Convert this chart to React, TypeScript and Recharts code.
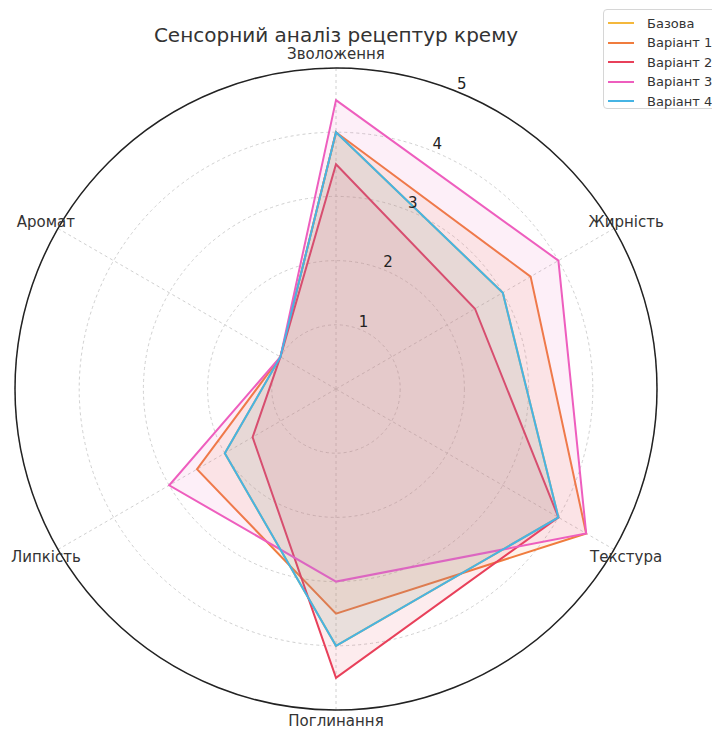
import React from "react";
import {
  RadarChart,
  Radar,
  PolarGrid,
  PolarAngleAxis,
  PolarRadiusAxis,
} from "recharts";

// axes go clockwise from the top
const CATEGORIES = ["Зволоження", "Жирність", "Текстура", "Поглинання", "Липкість", "Аромат"];
const BASE = [4.0, 3.0, 4.0, 4.0, 2.0, 1.0];
const VARIANT_1 = [4.0, 3.5, 4.5, 3.5, 2.5, 1.0];
const VARIANT_2 = [3.5, 2.5, 4.0, 4.5, 1.5, 1.0];
const VARIANT_3 = [4.5, 4.0, 4.5, 3.0, 3.0, 1.0];
const VARIANT_4 = [4.0, 3.0, 4.0, 4.0, 2.0, 1.0];
const RADIUS_TICKS = [0, 1, 2, 3, 4, 5];

const SERIES = [
  { key: "base", name: "Базова", values: BASE, color: "#f4b83c" },
  { key: "v1", name: "Варіант 1", values: VARIANT_1, color: "#f07c3e" },
  { key: "v2", name: "Варіант 2", values: VARIANT_2, color: "#e8405a" },
  { key: "v3", name: "Варіант 3", values: VARIANT_3, color: "#ee5ebe" },
  { key: "v4", name: "Варіант 4", values: VARIANT_4, color: "#46b4e4" },
];

const data = CATEGORIES.map((axis, i) => {
  const row: Record<string, string | number> = { axis };
  SERIES.forEach((s) => {
    row[s.key] = s.values[i];
  });
  return row;
});

const FONT = "'DejaVu Sans', sans-serif";
const CX = 336;
const CY = 389;
const R = 321;

const AngleTick = (props: any) => {
  const { x, y, payload } = props;
  const dx = x - CX;
  const dy = y - CY;
  const len = Math.hypot(dx, dy) || 1;
  const off = dy > len * 0.9 ? 11 : 14;
  const px = CX + (dx / len) * (R + off);
  const py = CY + (dy / len) * (R + off);
  return (
    <text
      x={px}
      y={py}
      textAnchor="middle"
      dominantBaseline="central"
      fontSize={15}
      fontFamily={FONT}
      fill="#333"
    >
      {payload.value}
    </text>
  );
};

const RadiusTick = (props: any) => {
  const { x, y, payload } = props;
  if (payload.value === 0) return null;
  return (
    <text
      x={x + 3}
      y={y - 8}
      textAnchor="middle"
      dominantBaseline="central"
      fontSize={15}
      fontFamily={FONT}
      fill="#222"
    >
      {payload.value}
    </text>
  );
};

export default function App() {
  return (
    <div
      style={{
        position: "absolute",
        left: 0,
        top: 0,
        width: 712,
        height: 731,
        background: "#fff",
        fontFamily: FONT,
      }}
    >
      <div
        style={{
          position: "absolute",
          left: 0,
          width: 672,
          top: 23,
          textAlign: "center",
          fontSize: 20,
          lineHeight: "24px",
          color: "#333",
        }}
      >
        Сенсорний аналіз рецептур крему
      </div>
      <RadarChart
        width={712}
        height={731}
        data={data}
        cx={CX}
        cy={CY}
        outerRadius={R}
        margin={{ top: 0, right: 0, bottom: 0, left: 0 }}
      >
        <PolarGrid
          gridType="circle"
          stroke="#d0d0d0"
          strokeDasharray="3 3"
        />
        <PolarAngleAxis
          dataKey="axis"
          tick={<AngleTick />}
          tickLine={false}
          axisLineType="circle"
          axisLine={{ stroke: "#222", strokeWidth: 1.5 }}
        />
        <PolarRadiusAxis
          angle={67.5}
          domain={[0, 5]}
          ticks={RADIUS_TICKS as any}
          tickCount={6}
          tick={<RadiusTick />}
          axisLine={false}
          tickLine={false}
        />
        {SERIES.map((s) => (
          <Radar
            key={s.key}
            name={s.name}
            dataKey={s.key}
            stroke={s.color}
            strokeWidth={2}
            fill={s.color}
            fillOpacity={0.1}
            isAnimationActive={false}
          />
        ))}
      </RadarChart>
      <div
        style={{
          position: "absolute",
          left: 603,
          top: 9,
          width: 112,
          height: 98,
          border: "1px solid #d6d6d6",
          borderRadius: 4,
          background: "rgba(255,255,255,0.85)",
        }}
      >
        {SERIES.map((s, i) => (
          <div
            key={s.key}
            style={{
              position: "absolute",
              left: 4,
              top: 4 + i * 19.6,
              height: 18,
              display: "flex",
              alignItems: "center",
              fontSize: 13,
              color: "#333",
              whiteSpace: "nowrap",
            }}
          >
            <span
              style={{
                display: "inline-block",
                width: 26,
                height: 2,
                background: s.color,
                marginRight: 13,
              }}
            />
            {s.name}
          </div>
        ))}
      </div>
    </div>
  );
}
